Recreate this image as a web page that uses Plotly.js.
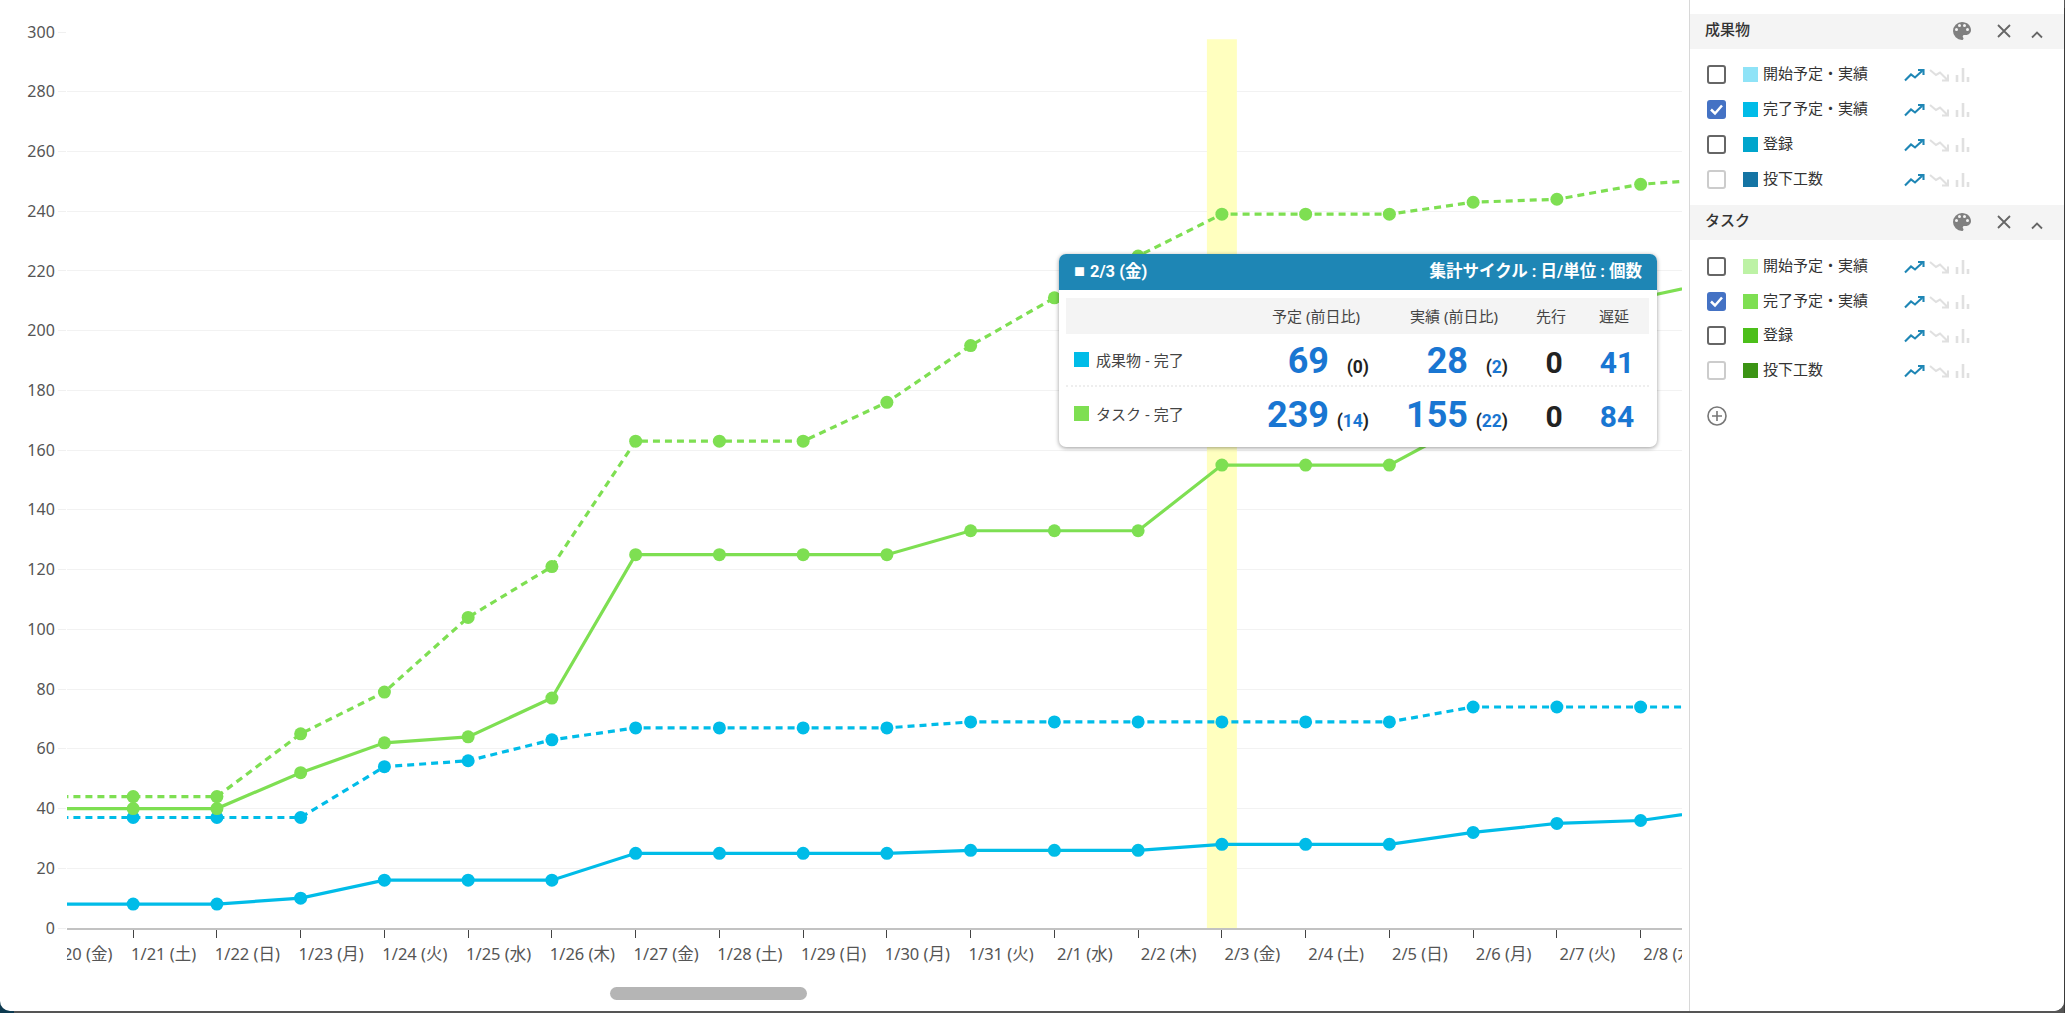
<!DOCTYPE html>
<html lang="ja">
<head>
<meta charset="utf-8">
<script src="https://cdn.plot.ly/plotly-3.0.1.min.js"></script>
<style>
html,body{margin:0;padding:0;width:2065px;height:1013px;overflow:hidden;background:#555;font-family:Roboto,"Noto Sans CJK JP",sans-serif;}
#corner{position:absolute;left:0;top:990px;width:14px;height:23px;background:#0d3a50;}
#edge{position:absolute;left:2064px;top:8px;width:1px;height:1005px;background:#3a3a3a;}
#card{position:absolute;left:0;top:0;width:2064px;height:1011px;background:#fff;border-radius:0 0 10px 10px;}
#plot{position:absolute;left:0;top:0;width:2065px;height:1013px;}
.abs{position:absolute;white-space:nowrap;}
</style>
</head>
<body>
<div id="corner"></div><div id="edge"></div><div id="card"></div>
<div id="plot"></div>
<div id="ui"></div>
<script>
const categories = ['1/20 (金)','1/21 (土)','1/22 (日)','1/23 (月)','1/24 (火)','1/25 (水)','1/26 (木)','1/27 (金)','1/28 (土)','1/29 (日)','1/30 (月)','1/31 (火)','2/1 (水)','2/2 (木)','2/3 (金)','2/4 (土)','2/5 (日)','2/6 (月)','2/7 (火)','2/8 (水)','2/9 (木)'];
const deliverablePlan = [37,37,37,37,54,56,63,67,67,67,67,69,69,69,69,69,69,74,74,74,74];
const deliverableActual = [8,8,8,10,16,16,16,25,25,25,25,26,26,26,28,28,28,32,35,36,40];
const taskPlan = [44,44,44,65,79,104,121,163,163,163,176,195,211,225,239,239,239,243,244,249,251];
const taskActual = [40,40,40,52,62,64,77,125,125,125,125,133,133,133,155,155,155,170,195,211,217];
const highlightCategory = ['2/3 (金)'];
const highlightValue = [297.6];
const blue = '#00bce8', green = '#7edf52';
const xRange = [0.21, 19.494];
const labelOffset = 0.364;

const tipMark = '■';
const tipTitle = '2/3 (金)';
const tipCycle = '集計サイクル : 日/単位 : 個数';
const tipHeaders = ['予定 (前日比)','実績 (前日比)','先行','遅延'];
const tipNames = ['成果物 - 完了','タスク - 完了'];
const tipPlan = [69,239], tipPlanDiff = [0,14], tipActual = [28,155], tipActualDiff = [2,22], tipAhead = [0,0], tipDelay = [41,84];

const groupNames = ['成果物','タスク'];
const itemNames = [['開始予定・実績','完了予定・実績','登録','投下工数'],['開始予定・実績','完了予定・実績','登録','投下工数']];
const itemColors = [['#8fe3f7','#00bce8','#00a5cc','#1474a4'],['#bdf2a5','#7edf52','#4cbf1a','#3b9414']];
const itemChecks = [[0,1,0,2],[0,1,0,2]];

const FF = '"Noto Sans", "Noto Sans CJK JP", sans-serif';
function line(y,color,dash){return {type:'scatter',mode:'lines+markers',x:categories,y:y,cliponaxis:true,
  line:{color:color,width:3.2,dash:dash},marker:{color:color,size:13},hoverinfo:'skip'};}
const traces = [
 {type:'bar',x:highlightCategory,y:highlightValue,width:0.358,marker:{color:'#ffffbf',line:{width:0}},hoverinfo:'skip'},
 line(deliverablePlan,blue,'7px,5px'),
 line(deliverableActual,blue,'solid'),
 line(taskPlan,green,'7px,5px'),
 line(taskActual,green,'solid'),
 {type:'scatter',mode:'none',x:categories,y:deliverablePlan,xaxis:'x2',yaxis:'y',hoverinfo:'skip'}
];
const layout = {
 width:2065,height:1013,margin:{l:67,r:383,t:32,b:84.5,pad:0},
 paper_bgcolor:'rgba(0,0,0,0)',plot_bgcolor:'rgba(0,0,0,0)',showlegend:false,hovermode:false,
 font:{family:FF,color:'#555',size:16},
 xaxis:{type:'category',categoryorder:'array',categoryarray:categories,range:xRange,dtick:1,tickson:'labels',
   ticks:'outside',ticklen:8,tickwidth:1,tickcolor:'#444',showticklabels:false,
   showline:true,linecolor:'#c2c2c2',linewidth:2,showgrid:false,zeroline:false,automargin:false},
 xaxis2:{type:'category',categoryorder:'array',categoryarray:categories,overlaying:'x',anchor:'y',side:'bottom',
   range:[xRange[0]-labelOffset,xRange[1]-labelOffset],dtick:1,tickson:'labels',
   ticks:'outside',ticklen:8,tickwidth:1,tickcolor:'rgba(0,0,0,0)',ticklabelstandoff:3,
   showline:false,showgrid:false,zeroline:false,tickangle:0,
   tickfont:{family:FF,size:16.5,color:'#555'},automargin:false},
 yaxis:{range:[0,300],dtick:20,ticks:'outside',ticklen:8,tickwidth:1,tickcolor:'#f0f0f0',
   gridcolor:'#f2f2f2',gridwidth:1,zeroline:false,showline:false,
   tickfont:{family:FF,size:16,color:'#555'},automargin:false}
};
Plotly.newPlot('plot',traces,layout,{displayModeBar:false,staticPlot:true});

const ui = document.getElementById('ui');
function box(l,t,w,h,css,html){const d=document.createElement('div');d.className='abs';
  d.style.cssText=`left:${l}px;top:${t}px;width:${w}px;height:${h}px;${css||''}`;if(html)d.innerHTML=html;ui.appendChild(d);return d;}
function base(text,x,baseline,fs,align,css){ // text placed on a baseline
  const t=baseline-0.3415*fs;const d=document.createElement('div');d.className='abs';
  const pos = align==='r'?`left:${x-300}px;width:300px;text-align:right;`:align==='c'?`left:${x-150}px;width:300px;text-align:center;`:`left:${x}px;`;
  d.style.cssText=`${pos}top:${t}px;line-height:0;font-size:${fs}px;${css||''}`;d.innerHTML=text;ui.appendChild(d);return d;}

// clip the tick labels at the plot edges
box(0,937,67,40,'background:#fff');
box(1682,937,8,40,'background:#fff');
// scrollbar
box(610,987,197,13,'background:#b5b5b5;border-radius:7px');

// side panel
box(1689,0,375,1011,'background:#fff;border-left:1px solid #d8d8d8;box-sizing:border-box;border-radius:0 0 10px 0');
const palette='<svg width="24" height="24" viewBox="0 0 24 24"><path fill="#808080" fill-rule="evenodd" d="M12 3a9 9 0 0 0 0 18c.83 0 1.5-.67 1.5-1.5 0-.39-.15-.74-.39-1.01-.23-.26-.38-.61-.38-.99 0-.83.67-1.5 1.5-1.5H16c2.76 0 5-2.24 5-5 0-4.42-4.03-8-9-8zm-5.5 9a1.5 1.5 0 1 1 0-3 1.5 1.5 0 0 1 0 3zm3-4a1.5 1.5 0 1 1 0-3 1.5 1.5 0 0 1 0 3zm5 0a1.5 1.5 0 1 1 0-3 1.5 1.5 0 0 1 0 3zm3 4a1.5 1.5 0 1 1 0-3 1.5 1.5 0 0 1 0 3z"/></svg>';
const closeIcon='<svg width="16" height="16" viewBox="0 0 16 16"><path d="M2 2L14 14M14 2L2 14" stroke="#666" stroke-width="1.8" fill="none"/></svg>';
const chevron='<svg width="14" height="10" viewBox="0 0 14 10"><path d="M2 7.5L7 2.5L12 7.5" stroke="#666" stroke-width="1.8" fill="none"/></svg>';
const up='<svg width="21" height="14" viewBox="0 0 21 14"><path d="M1 12.5L7 6.5L11 9.5L18 3M14 2H19.5V7" stroke="#1e86b5" stroke-width="2.1" fill="none"/></svg>';
const down='<svg width="20" height="14" viewBox="0 0 20 14"><path d="M1 2L7 7L11 4.5L18 11.5M19 6.5V12.5H13" stroke="#e0e0e0" stroke-width="2.1" fill="none"/></svg>';
const bars='<svg width="15" height="14" viewBox="0 0 15 14"><path d="M2 7V14M8 0V14M13 9V14" stroke="#e0e0e0" stroke-width="2.6" fill="none"/></svg>';
const check='<svg width="19" height="19" viewBox="0 0 19 19"><path d="M4 9.5L8 13.5L15 5.5" stroke="#fff" stroke-width="2.5" fill="none"/></svg>';
const headerTops=[14,205], rowY=[[74,109,144,179],[266,301,335,370]];
groupNames.forEach((g,i)=>{
  const t=headerTops[i];
  box(1690,t,374,35,'background:#f4f4f4');
  box(1705,t,100,33,`font-size:15px;font-weight:500;color:#333;line-height:33px`,g);
  box(1950,t+5,24,24,'',palette);
  box(1996,t+9,16,16,'',closeIcon);
  box(2030,t+11,14,10,'',chevron);
  itemNames[i].forEach((n,j)=>{
    const y=rowY[i][j], c=itemChecks[i][j];
    const st=c===1?'background:#4472c4;border-radius:3px;':
      `box-sizing:border-box;border:2px solid ${c===2?'#ccc':'#666'};border-radius:3px;`;
    box(1707,y-9,19,19,st,c===1?check:'');
    box(1743,y-7,15,15,`background:${itemColors[i][j]}`);
    box(1763,y-12,130,24,'font-size:15px;color:#333;line-height:24px',n);
    box(1904,y-7,21,14,'',up);
    box(1929,y-7,20,14,'',down);
    box(1955,y-7,15,14,'',bars);
  });
});
box(1707,406,20,20,'','<svg width="20" height="20" viewBox="0 0 20 20"><circle cx="10" cy="10" r="9" stroke="#777" stroke-width="1.6" fill="none"/><path d="M10 5V15M5 10H15" stroke="#777" stroke-width="1.6"/></svg>');

// tooltip
box(1059,254,598,193,'background:#fff;border-radius:7px;box-shadow:0 1px 4px rgba(0,0,0,.4)');
box(1059,254,598,36,'background:#1e86b5;border-radius:7px 7px 0 0');
base(`<span style="font-size:11px;margin-right:5px;vertical-align:1px">${tipMark}</span>${tipTitle}`,1074,278,16.5,'l','color:#fff;font-weight:700');
base(tipCycle,1642,278,16.5,'r','color:#fff;font-weight:700');
box(1066,298,583,36,'background:#f4f4f4');
[1316,1454,1551,1614].forEach((x,i)=>base(tipHeaders[i],x,321,15,'c',`color:#444;font-family:${FF.replace(/"/g,"'")}`));
box(1066,385,583,0,'border-top:2px dotted #eee');
const rowColors=[blue,green], rowBase=[373,427], swY=[352,406];
const num='#1976d2';
const diff=v=>v===0?`(${v})`:`(<span style="color:${num}">${v}</span>)`;
tipNames.forEach((n,i)=>{
  box(1074,swY[i],15,15,`background:${rowColors[i]}`);
  base(n,1096,rowBase[i]-8,15,'l',`color:#444;font-family:${FF.replace(/"/g,"'")}`);
  base(tipPlan[i],1329,rowBase[i],36,'r',`font-weight:700;color:${num}`);
  base(diff(tipPlanDiff[i]),1369,rowBase[i],17.5,'r','font-weight:700;color:#222');
  base(tipActual[i],1468,rowBase[i],36,'r',`font-weight:700;color:${num}`);
  base(diff(tipActualDiff[i]),1508,rowBase[i],17.5,'r','font-weight:700;color:#222');
  base(tipAhead[i],1554,rowBase[i],30,'c','font-weight:700;color:#222');
  base(tipDelay[i],1617,rowBase[i],30,'c',`font-weight:700;color:${num}`);
});
</script>
</body>
</html>
